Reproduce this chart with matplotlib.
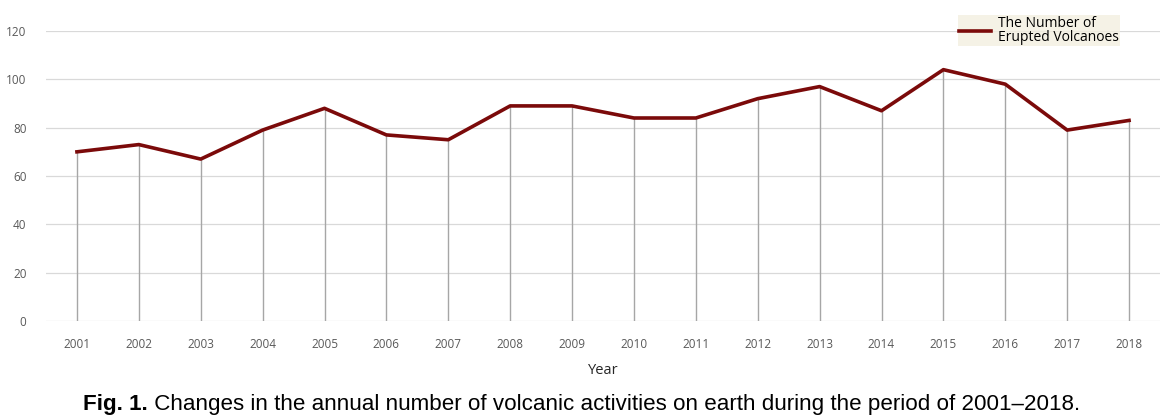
import matplotlib
matplotlib.use("Agg")
import matplotlib.pyplot as plt

years = ["2001", "2002", "2003", "2004", "2005", "2006", "2007", "2008", "2009",
         "2010", "2011", "2012", "2013", "2014", "2015", "2016", "2017", "2018"]
counts = [70, 73, 67, 79, 88, 77, 75, 89, 89, 84, 84, 92, 97, 87, 104, 98, 79, 83]
yticks = [0, 20, 40, 60, 80, 100, 120]
series_label = "The Number of\nErupted Volcanoes"

W, H = 1163, 419
fig = plt.figure(figsize=(W / 100, H / 100), dpi=100)
ax = fig.add_axes([46 / W, 1 - 321 / H, (1160 - 46) / W, (321 - 31) / H])

x = list(range(len(years)))
ax.vlines(x, 0, counts, color="#a6a6a6", lw=1.0, zorder=2)
line, = ax.plot(x, counts, color="#7b0a0a", lw=2.6, solid_joinstyle="round", zorder=3,
                label=series_label)

ax.set_xlim(-0.5, len(years) - 0.5)
ax.set_ylim(0, 120)
ax.set_yticks(yticks)
ax.set_xticks(x)
ax.set_xticklabels(years)
ax.grid(axis="y", color="#d9d9d9", lw=0.9)
ax.set_axisbelow(True)
for s in ax.spines.values():
    s.set_visible(False)
ax.tick_params(length=0, labelsize=8.5, labelcolor="#595959")
ax.tick_params(axis="x", pad=12)
ax.tick_params(axis="y", pad=14)
for lab in ax.get_xticklabels() + ax.get_yticklabels():
    lab.set_family("Open Sans")
ax.set_xlabel("Year", fontsize=10.5, family="Open Sans", color="#262626", labelpad=9)

leg = fig.legend(handles=[line], labels=[series_label], loc="upper left",
                 bbox_to_anchor=(951 / W, 1 - 8 / H), frameon=True, fancybox=False,
                 prop={"family": "Open Sans", "size": 10}, handlelength=2.3,
                 borderpad=0.1, handletextpad=0.5, labelspacing=0.1)
leg.get_frame().set_facecolor("#f3efe0")
leg.get_frame().set_edgecolor("none")
for t in leg.get_texts():
    t.set_linespacing(0.85)

t1 = fig.text(83 / W, 1 - 410 / H, "Fig. 1.", fontsize=16.1, fontweight="bold",
              family="Liberation Sans", ha="left", va="baseline")
fig.canvas.draw()
ax.annotate(" Changes in the annual number of volcanic activities on earth during the period of 2001\u20132018.",
            xy=(1, 0), xycoords=t1, va="bottom", ha="left", fontsize=16.1,
            family="Liberation Sans", annotation_clip=False)

fig.savefig("out.png", dpi=100)
